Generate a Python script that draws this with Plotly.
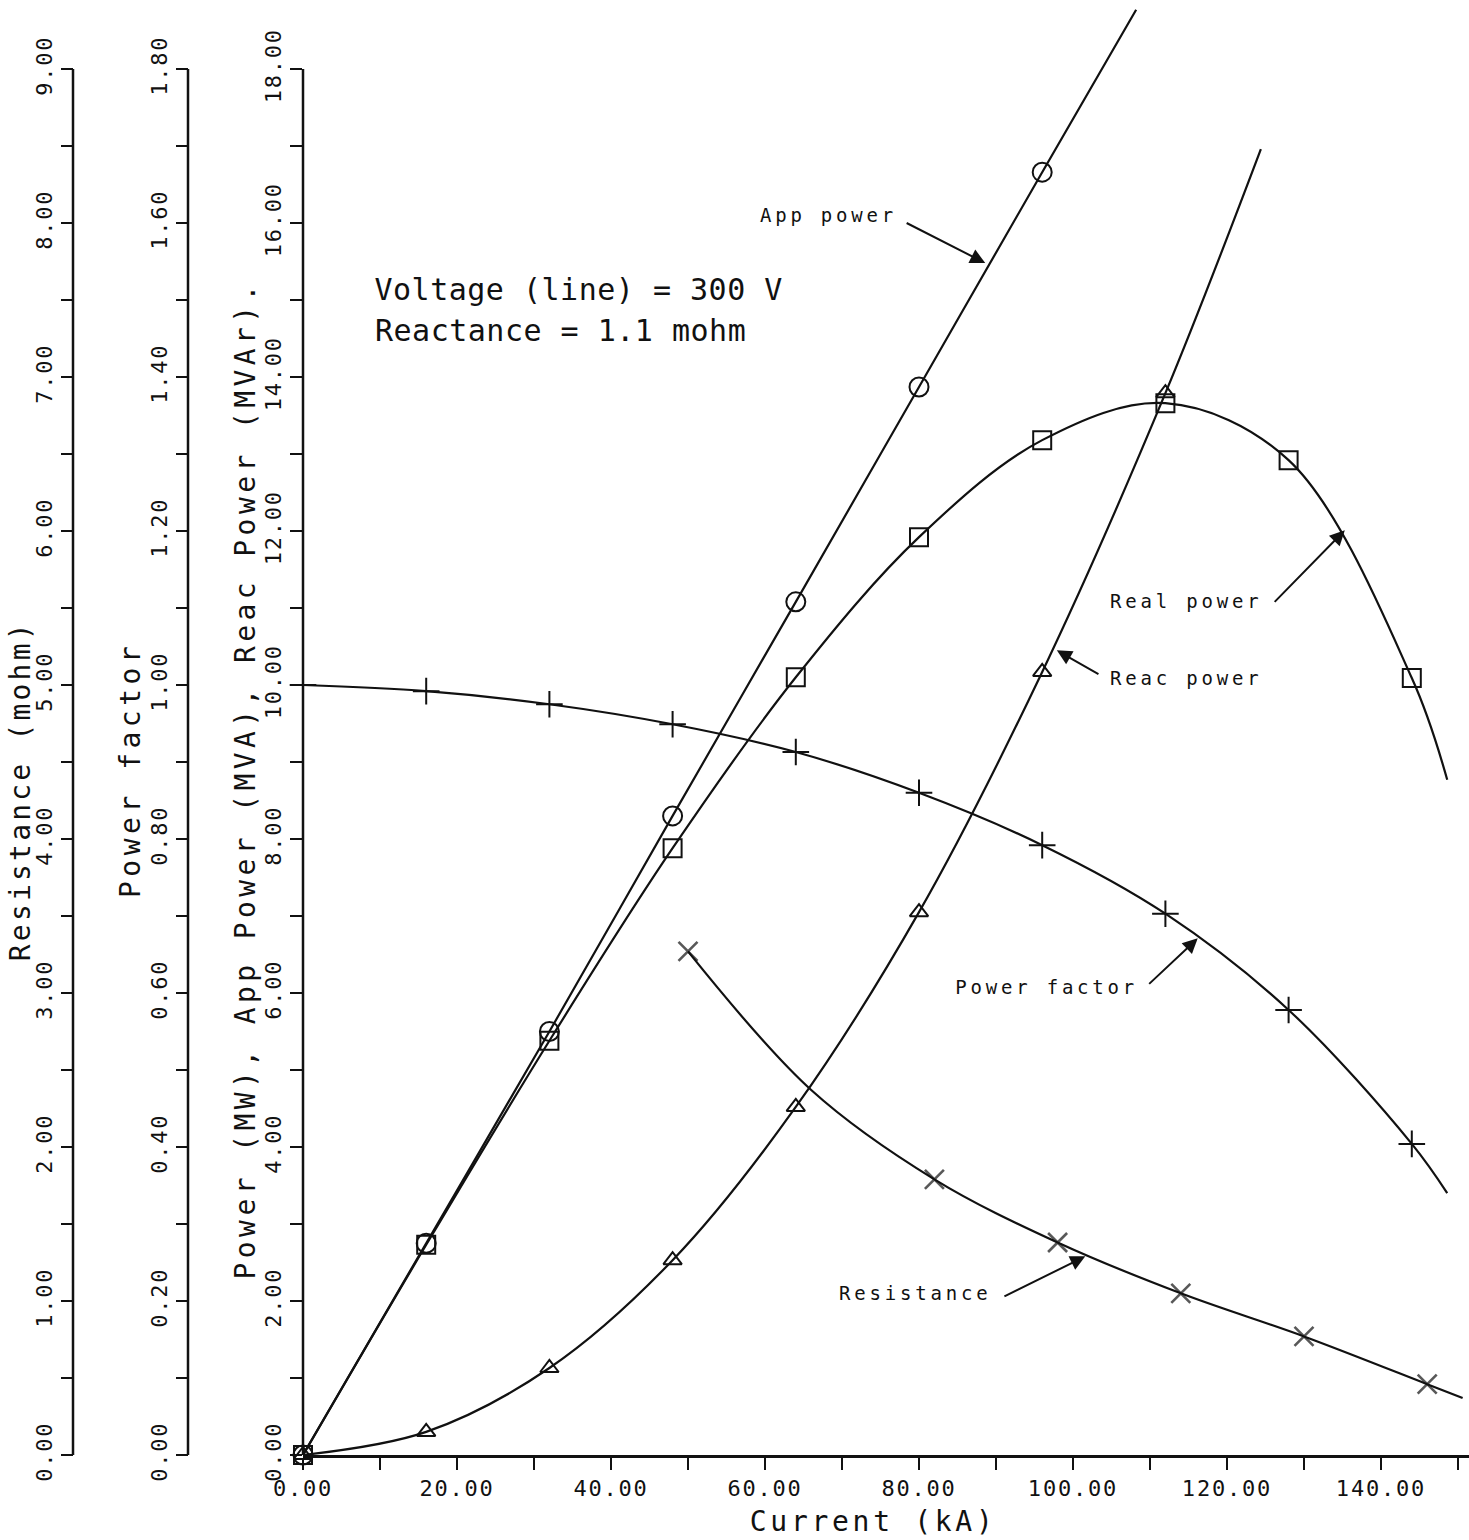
import json
import plotly.graph_objects as go

# ---------------- data ----------------
current_ka = [0, 16, 32, 48, 64, 80, 96, 112, 128, 144]

app_power_i = [0, 16, 32, 48, 64, 80, 96]
app_power_mva = [0, 2.75, 5.50, 8.30, 11.08, 13.87, 16.66]
app_power_end = [108.2, 18.77]

real_power_mw = [0, 2.73, 5.38, 7.88, 10.10, 11.92, 13.18, 13.66, 12.92, 10.09]
real_power_end = [148.6, 8.77]

reac_power_i = [0, 16, 32, 48, 64, 80, 96, 112]
reac_power_mvar = [0, 0.30, 1.13, 2.53, 4.52, 7.05, 10.17, 13.79]
reac_power_end = [124.4, 16.96]

power_factor = [1.0, 0.992, 0.975, 0.949, 0.913, 0.860, 0.792, 0.703, 0.578, 0.404]
power_factor_end = [148.6, 0.340]

res_i = [50, 66, 82, 98, 114, 130, 146]
resistance_mohm = [3.27, 2.37, 1.79, 1.38, 1.05, 0.77, 0.46]
res_marker_visible = [True, False, True, True, True, True, True]   # 66 kA mark hidden under the Reac power line
resistance_end = [150.6, 0.37]

# ---------------- layout constants (pixels) ----------------
W, H = 1469, 1540
PLOT_L = 303          # left edge of the plotting area (power axis)
PLOT_B = 85           # bottom margin
PX_PER_KA = 7.7
PX_PER_UNIT = 77.0    # pixels per MW on the power axis
AXIS_X = [73, 188, 303]

X_MAX = (W - PLOT_L) / PX_PER_KA
Y_MAX = (H - PLOT_B) / PX_PER_UNIT

INK = "#111111"
MONO = "DejaVu Sans Mono"


def px(xp):
    return xp / W


def py(yp):
    return (H - PLOT_B - yp) / (H - PLOT_B)


fig = go.Figure()


def add_series(xs, ys, end, symbol, size, yaxis, visible=None, mlw=2):
    fig.add_trace(go.Scatter(
        x=list(xs) + [end[0]], y=list(ys) + [end[1]], mode="lines",
        line=dict(color=INK, width=2.2, shape="spline", smoothing=1.0),
        yaxis=yaxis, hoverinfo="skip", showlegend=False))
    sizes = size if visible is None else [size if v else 0 for v in visible]
    fig.add_trace(go.Scatter(
        x=xs, y=ys, mode="markers", cliponaxis=False,
        marker=dict(symbol=symbol, size=sizes, color=INK,
                    line=dict(color=INK, width=mlw)),
        yaxis=yaxis, showlegend=False))


add_series(app_power_i, app_power_mva, app_power_end, "circle-open", 19, "y")
add_series(current_ka, real_power_mw, real_power_end, "square-open", 18, "y")
add_series(reac_power_i, reac_power_mvar, reac_power_end, "triangle-up-open", 16, "y")
add_series(current_ka, power_factor, power_factor_end, "cross-thin-open", 19, "y2")
add_series(res_i, resistance_mohm, resistance_end, "x-thin-open", 19, "y3",
           visible=res_marker_visible, mlw=2.6)

tickfont = dict(family=MONO, size=22, color=INK)
common_y = dict(showline=False, showgrid=False, zeroline=False,
                ticks="outside", ticklen=12, tickwidth=2, tickcolor=INK,
                tickangle=-90, tickformat=".2f", tickfont=tickfont,
                side="left", automargin=False)

fig.update_layout(
    width=W, height=H,
    margin=dict(l=0, r=0, t=0, b=PLOT_B, pad=0, autoexpand=False),
    paper_bgcolor="white", plot_bgcolor="white",
    showlegend=False,
    xaxis=dict(domain=[PLOT_L / W, 1], range=[0, X_MAX], anchor="y",
               tick0=0, dtick=20, tickformat=".2f",
               ticks="outside", ticklen=12, tickwidth=2, tickcolor=INK,
               minor=dict(dtick=10, ticks="outside", ticklen=12, tickwidth=2,
                          tickcolor=INK, showgrid=False),
               showline=True, linewidth=2.5, linecolor=INK, automargin=False,
               showgrid=False, zeroline=False, tickfont=tickfont),
    yaxis=dict(range=[0, Y_MAX], anchor="x", tick0=0, dtick=2,
               minor=dict(dtick=1, ticks="outside", ticklen=12, tickwidth=2,
                          tickcolor=INK, showgrid=False),
               **common_y),
    yaxis2=dict(range=[0, Y_MAX / 10], overlaying="y", anchor="free",
                position=px(AXIS_X[1]), tick0=0, dtick=0.2,
                minor=dict(dtick=0.1, ticks="outside", ticklen=12, tickwidth=2,
                           tickcolor=INK, showgrid=False),
                **common_y),
    yaxis3=dict(range=[0, Y_MAX / 2], overlaying="y", anchor="free",
                position=px(AXIS_X[0]), tick0=0, dtick=1,
                minor=dict(dtick=0.5, ticks="outside", ticklen=12, tickwidth=2,
                           tickcolor=INK, showgrid=False),
                **common_y),
)

# axis lines stop at the top tick (18 on the power scale)
for ax in AXIS_X:
    fig.add_shape(type="line", xref="paper", yref="y",
                  x0=px(ax), x1=px(ax), y0=0, y1=18,
                  line=dict(color=INK, width=2.5))

# axis titles
TITLE_SIZE = 28
titles = [
    ("Resistance (mohm)", 20, 791),
    ("Power factor", 130, 770),
    ("Power (MW), App Power (MVA), Reac Power (MVAr).", 245, 780),
]
for txt, xp, yp in titles:
    fig.add_annotation(text=txt, xref="paper", yref="paper", x=px(xp), y=py(yp),
                       xanchor="center", yanchor="middle", textangle=-90,
                       showarrow=False,
                       font=dict(family=MONO, size=TITLE_SIZE, color=INK))
fig.add_annotation(text="Current (kA)", xref="paper", yref="paper",
                   x=px(873), y=py(1521), xanchor="center", yanchor="middle",
                   showarrow=False, font=dict(family=MONO, size=TITLE_SIZE, color=INK))

# info text
for txt, yv in [("Voltage (line) = 300 V", 15.13), ("Reactance = 1.1 mohm", 14.61)]:
    fig.add_annotation(text=txt, x=9.74, y=yv, xref="x", yref="y",
                       xanchor="left", yanchor="middle", showarrow=False,
                       font=dict(family=MONO, size=30, color=INK))

# curve labels and arrows
LABEL_SIZE = 19
labels = [
    ("App power", 68.2, 16.10, (78.2, 16.01), (88.6, 15.48)),
    ("Real power", 114.7, 11.09, (126.0, 11.06), (135.3, 12.01)),
    ("Reac power", 114.7, 10.09, (103.5, 10.13), (97.9, 10.45)),
    ("Power factor", 96.5, 6.08, (109.7, 6.10), (116.2, 6.71)),
    ("Resistance", 79.5, 2.10, (90.9, 2.05), (101.6, 2.58)),
]
for txt, lx, ly, tail, head in labels:
    fig.add_annotation(text=txt, x=lx, y=ly, xref="x", yref="y",
                       xanchor="center", yanchor="middle", showarrow=False,
                       font=dict(family=MONO, size=LABEL_SIZE, color=INK))
    fig.add_annotation(text="", x=head[0], y=head[1], xref="x", yref="y",
                       ax=tail[0], ay=tail[1], axref="x", ayref="y",
                       showarrow=True, arrowhead=2, arrowsize=1.5,
                       arrowwidth=2, arrowcolor=INK)

# letter spacing to mimic the pen-plotter lettering
spacing = {
    "Resistance (mohm)|28": 3.2,
    "Power factor|28": 4.5,
    "Power (MW), App Power (MVA), Reac Power (MVAr).|28": 4.4,
    "Current (kA)|28": 3.7,
    "Voltage (line) = 300 V|30": 0.5,
    "Reactance = 1.1 mohm|30": 0.5,
}
for t in labels:
    spacing[t[0] + "|" + str(LABEL_SIZE)] = 3.8

post = """
document.body.style.margin = '0';
var sp = %s;
var gd = document.getElementById('{plot_id}');
gd.querySelectorAll('.annotation-text').forEach(function(t){
  var k = t.textContent + '|' + Math.round(parseFloat(t.style.fontSize));
  if (sp[k] !== undefined) { t.style.letterSpacing = sp[k] + 'px'; }
});
gd.querySelectorAll('.xtick text, .ytick text, .y2tick text, .y3tick text').forEach(function(t){
  t.style.letterSpacing = '1.8px';
});
""" % json.dumps(spacing)

fig.write_html("out.html", post_script=post, config={"displayModeBar": False})
